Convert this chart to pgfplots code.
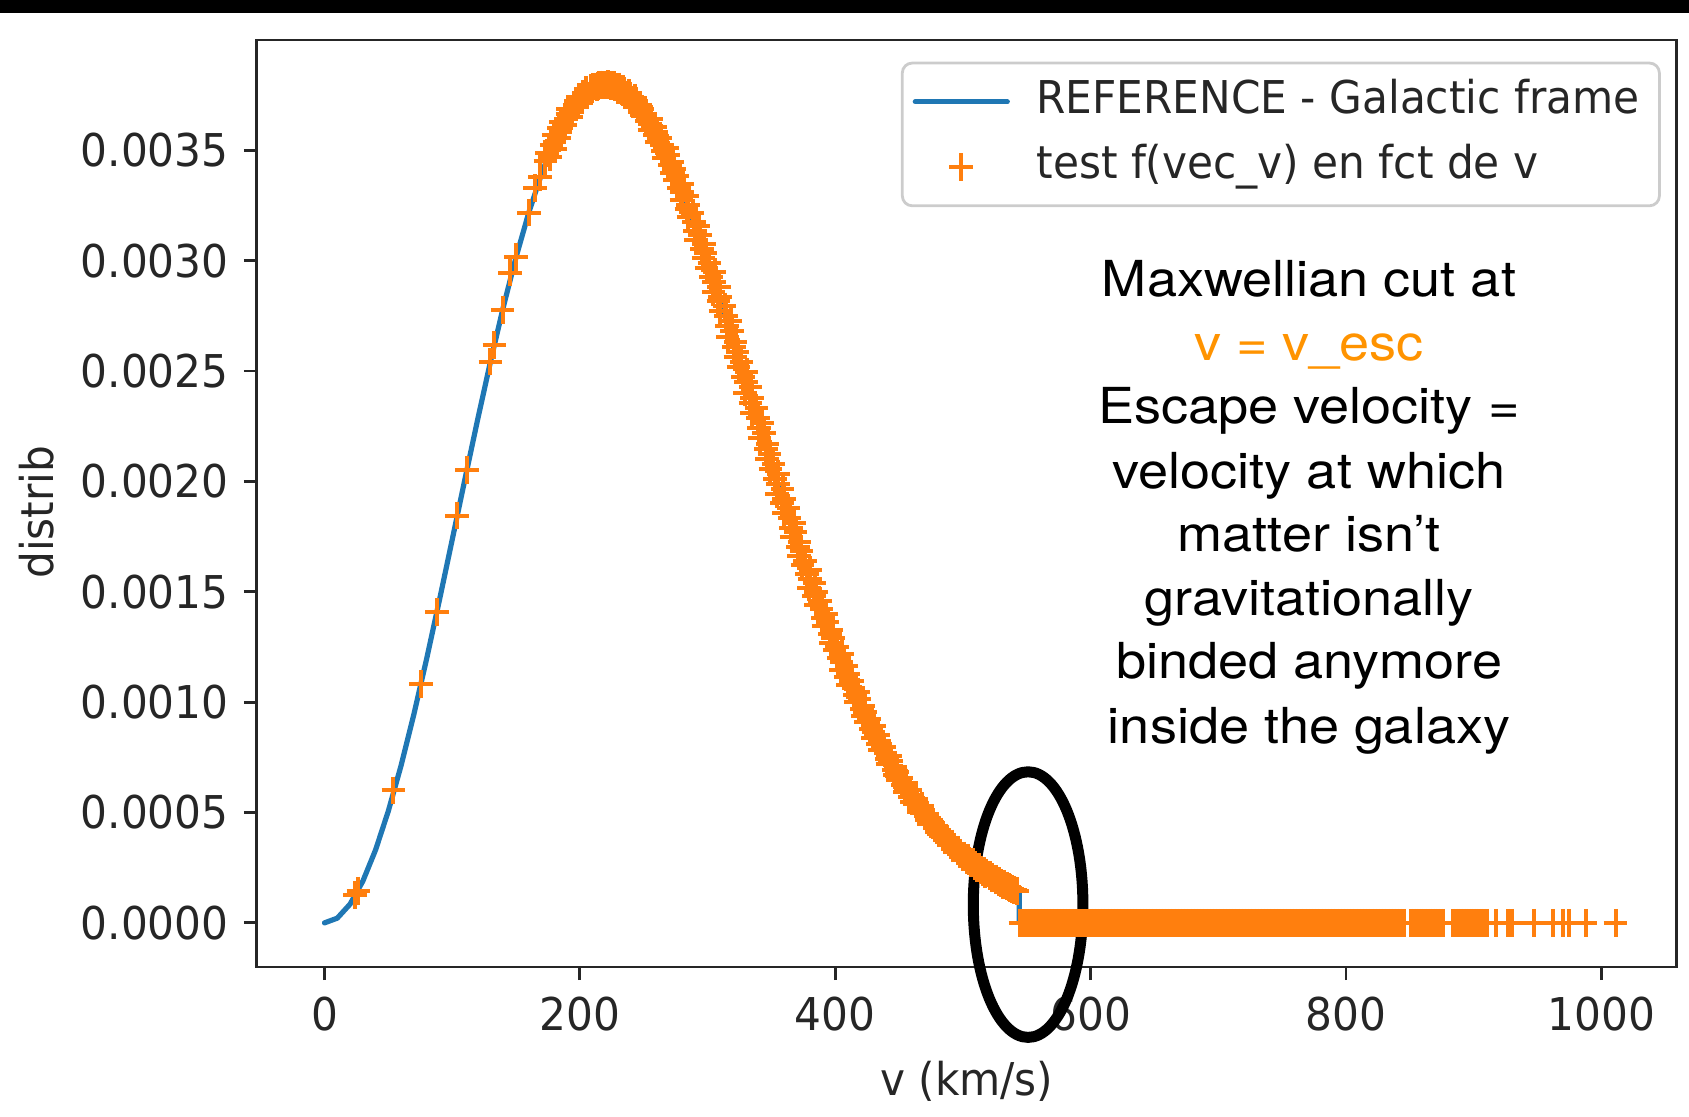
\documentclass[border=0pt]{standalone}
\usepackage{fontspec}
\usepackage{pgfplots}
\pgfplotsset{compat=1.18}
\newfontfamily\mplfont{DejaVu Sans}[FakeStretch=0.935]
\newfontfamily\annfont{TeX Gyre Heros}[FakeStretch=1.09]
\definecolor{mplblue}{HTML}{1F77B4}
\definecolor{mplorange}{HTML}{FF7F0E}
\definecolor{keyorange}{RGB}{255,147,0}
\newcommand{\mplsize}{\mplfont\fontsize{11.3}{13.6}\selectfont}
\newcommand{\annsize}{\annfont\fontsize{12.4}{15}\selectfont}
\pgfplotsset{
  lineleg/.style={legend image code/.code={\draw[##1] (0pt,0pt) -- (23pt,0pt);}},
  markleg/.style={legend image code/.code={\draw[##1, mark repeat=2, mark phase=2] plot coordinates {(0pt,0pt) (11.5pt,0pt) (23pt,0pt)};}},
}
\begin{document}
\begin{tikzpicture}
\useasboundingbox (0,0) rectangle (422.25pt,279pt);
\fill[black] (0,275.75pt) rectangle (422.25pt,279pt);
\begin{axis}[
  at={(64.2pt,37.25pt)}, anchor=south west,
  scale only axis, width=355pt, height=231.75pt,
  xmin=-53, xmax=1059, ymin=-0.0002, ymax=0.0040,
  clip=false,
  axis line style={line width=0.7pt, black!85},
  tick style={line width=0.7pt, black!85},
  tick align=outside, major tick length=3.25pt, tick pos=left,
  xtick={0,200,400,600,800,1000},
  ytick={0,0.0005,0.001,0.0015,0.002,0.0025,0.003,0.0035},
  scaled y ticks=false,
  /pgf/number format/assume math mode=true,
  /pgf/number format/1000 sep={},
  yticklabel style={/pgf/number format/fixed, /pgf/number format/fixed zerofill, /pgf/number format/precision=4, anchor=east, xshift=-3.6pt},
  xticklabel style={anchor=north, yshift=-4pt},
  ticklabel style={font=\mplsize, text=black!85, inner sep=0pt},
  xlabel={v (km/s)}, ylabel={distrib},
  xlabel style={at={(axis description cs:0.5,-0.1389)}, anchor=base, font=\mplsize, text=black!85, inner sep=0pt},
  ylabel style={at={(axis description cs:-0.1431,0.4907)}, anchor=base, font=\mplsize, text=black!85, inner sep=0pt},
  legend cell align=left,
  legend style={at={(rel axis cs:1,1)}, anchor=north east, xshift=-4pt, yshift=-5.4pt,
    draw=black!20, line width=0.7pt, rounded corners=2.5pt, fill=white, fill opacity=0.8, text opacity=1,
    font=\mplsize, text=black!85, inner xsep=2.6pt, inner ysep=4.2pt, row sep=5.3pt,
    nodes={inner xsep=0pt, inner ysep=0pt, text height=8.4pt, text depth=2.6pt},
    /tikz/every odd column/.append style={column sep=6.65pt}},
]
\addplot[color=mplblue, line width=1.3pt, line cap=round, line join=round, no marks, lineleg]
coordinates {
(0,0) (10,0.00002129) (20,0.0000846) (30,0.0001885) (40,0.0003303) (50,0.0005066)
(60,0.0007131) (70,0.0009448) (80,0.0011964) (90,0.0014619) (100,0.0017354)
(110,0.0020106) (120,0.0022818) (130,0.0025431) (140,0.0027893) (150,0.0030158)
(160,0.0032184) (170,0.0033938) (175,0.0034706) (180,0.0035395) (185,0.0036005)
(190,0.0036534) (195,0.0036982) (200,0.0037347) (205,0.0037630) (210,0.0037831)
(215,0.0037950) (220,0.0037990) (225,0.0037951) (230,0.0037836) (235,0.0037646)
(240,0.0037386) (245,0.0037054) (250,0.0036659) (255,0.0036201) (260,0.0035685)
(265,0.0035114) (270,0.0034493) (275,0.0033822) (280,0.0033108) (285,0.0032358)
(290,0.0031571) (295,0.0030751) (300,0.0029908) (305,0.0029039) (310,0.0028154)
(315,0.0027251) (320,0.0026337) (325,0.0025416) (330,0.0024490) (335,0.0023563)
(340,0.0022636) (345,0.0021715) (350,0.0020801) (355,0.0019895) (360,0.0019001)
(365,0.0018126) (370,0.0017261) (375,0.0016417) (380,0.0015593) (385,0.0014792)
(390,0.0014010) (395,0.0013251) (400,0.0012519) (405,0.0011809) (410,0.0011126)
(415,0.0010466) (420,0.0009834) (425,0.0009229) (430,0.0008649) (435,0.0008094)
(440,0.0007566) (445,0.0007062) (450,0.0006585) (455,0.0006130) (460,0.0005701)
(465,0.0005295) (470,0.0004911) (475,0.0004549) (480,0.0004209) (485,0.0003889)
(490,0.0003590) (495,0.0003309) (500,0.0003046) (505,0.0002801) (510,0.0002573)
(515,0.0002360) (520,0.0002162) (525,0.0001978) (530,0.0001808) (535,0.0001650)
(540,0.0001505) (544,0.0001396) (544,0) (840,0)
};
\addlegendentry{REFERENCE - Galactic frame\kern2.4pt}
\addplot[color=mplorange, only marks, mark=+, mark size=2.95pt, mark options={line width=1pt, yscale=1.18}, markleg]
coordinates {
(24,0.000128) (26.5,0.000146) (54,0.000600) (75.5,0.0010811) (88,0.001408) (104,0.0018456)
(111.5,0.0020517) (130,0.0025431) (133,0.0026187) (139.5,0.0027775) (145.5,0.0029466)
(150,0.0030158) (160,0.0032184) (165,0.0033298) (169,0.0033776) (173,0.0034509)
(176.5,0.0034706) (174.25,0.0034879) (180.5,0.0035051) (177.75,0.0035223) (180,0.0035395) (183.75,0.0035548) (179.5,0.0035700) (184.75,0.0035853) (183.5,0.0036005) (188.25,0.0036138) (185,0.0036270) (189.25,0.0036402) (193,0.0036534) (190.25,0.0036646) (194,0.0036758) (190.75,0.0036870) (197,0.0036982) (195.75,0.0037074) (198.5,0.0037165) (196.75,0.0037256)
(201.5,0.0037347) (199.25,0.0037418) (205.5,0.0037489) (202.75,0.0037560) (205,0.0037630) (208.75,0.0037681) (204.5,0.0037731) (209.75,0.0037781) (208.5,0.0037831) (213.25,0.0037861) (210,0.0037891) (214.25,0.0037921) (218,0.0037950) (215.25,0.0037960) (219,0.0037970) (215.75,0.0037980) (222,0.0037990) (220.75,0.0037981) (223.5,0.0037971) (221.75,0.0037961)
(226.5,0.0037951) (224.25,0.0037923) (230.5,0.0037894) (227.75,0.0037865) (230,0.0037836) (233.75,0.0037789) (229.5,0.0037741) (234.75,0.0037694) (233.5,0.0037646) (238.25,0.0037581) (235,0.0037516) (239.25,0.0037451) (243,0.0037386) (240.25,0.0037303) (244,0.0037220) (240.75,0.0037137) (247,0.0037054) (245.75,0.0036956) (248.5,0.0036857) (246.75,0.0036758)
(251.5,0.0036659) (249.25,0.0036545) (255.5,0.0036430) (252.75,0.0036316) (255,0.0036201) (258.75,0.0036072) (254.5,0.0035943) (259.75,0.0035814) (258.5,0.0035685) (263.25,0.0035543) (260,0.0035400) (264.25,0.0035257) (268,0.0035114) (265.25,0.0034959) (269,0.0034804) (265.75,0.0034649) (272,0.0034493) (270.75,0.0034326) (273.5,0.0034158) (271.75,0.0033990)
(276.5,0.0033822) (274.25,0.0033644) (280.5,0.0033465) (277.75,0.0033287) (280,0.0033108) (283.75,0.0032921) (279.5,0.0032733) (284.75,0.0032546) (283.5,0.0032358) (288.25,0.0032162) (285,0.0031965) (289.25,0.0031768) (293,0.0031571) (290.25,0.0031366) (294,0.0031161) (290.75,0.0030956) (297,0.0030751) (295.75,0.0030541) (298.5,0.0030330) (296.75,0.0030119)
(301.5,0.0029908) (299.25,0.0029691) (305.5,0.0029474) (302.75,0.0029257) (305,0.0029039) (308.75,0.0028818) (304.5,0.0028597) (309.75,0.0028376) (308.5,0.0028154) (313.25,0.0027929) (310,0.0027703) (314.25,0.0027477) (318,0.0027251) (315.25,0.0027023) (319,0.0026794) (315.75,0.0026566) (322,0.0026337) (320.75,0.0026107) (323.5,0.0025877) (321.75,0.0025647)
(326.5,0.0025416) (324.25,0.0025185) (330.5,0.0024953) (327.75,0.0024722) (330,0.0024490) (333.75,0.0024259) (329.5,0.0024027) (334.75,0.0023795) (333.5,0.0023563) (338.25,0.0023332) (335,0.0023100) (339.25,0.0022868) (343,0.0022636) (340.25,0.0022406) (344,0.0022176) (340.75,0.0021946) (347,0.0021715) (345.75,0.0021487) (348.5,0.0021258) (346.75,0.0021030)
(351.5,0.0020801) (349.25,0.0020575) (355.5,0.0020348) (352.75,0.0020122) (355,0.0019895) (358.75,0.0019672) (354.5,0.0019448) (359.75,0.0019225) (358.5,0.0019001) (363.25,0.0018783) (360,0.0018564) (364.25,0.0018345) (368,0.0018126) (365.25,0.0017910) (369,0.0017694) (365.75,0.0017478) (372,0.0017261) (370.75,0.0017050) (373.5,0.0016839) (371.75,0.0016628)
(376.5,0.0016417) (374.25,0.0016211) (380.5,0.0016005) (377.75,0.0015799) (380,0.0015593) (383.75,0.0015393) (379.5,0.0015193) (384.75,0.0014993) (383.5,0.0014792) (388.25,0.0014597) (385,0.0014401) (389.25,0.0014206) (393,0.0014010) (390.25,0.0013821) (394,0.0013631) (390.75,0.0013441) (397,0.0013251) (395.75,0.0013068) (398.5,0.0012885) (396.75,0.0012702)
(401.5,0.0012519) (399.25,0.0012342) (405.5,0.0012164) (402.75,0.0011987) (405,0.0011809) (408.75,0.0011639) (404.5,0.0011468) (409.75,0.0011297) (408.5,0.0011126) (413.25,0.0010961) (410,0.0010796) (414.25,0.0010631) (418,0.0010466) (415.25,0.0010308) (419,0.0010150) (415.75,0.0009992) (422,0.0009834) (420.75,0.0009683) (423.5,0.0009532) (421.75,0.0009381)
(426.5,0.0009229) (424.25,0.0009084) (430.5,0.0008939) (427.75,0.0008794) (430,0.0008649) (433.75,0.0008511) (429.5,0.0008372) (434.75,0.0008233) (433.5,0.0008094) (438.25,0.0007962) (435,0.0007830) (439.25,0.0007698) (443,0.0007566) (440.25,0.0007440) (444,0.0007314) (440.75,0.0007188) (447,0.0007062) (445.75,0.0006943) (448.5,0.0006824) (446.75,0.0006705)
(451.5,0.0006585) (449.25,0.0006472) (455.5,0.0006358) (452.75,0.0006244) (455,0.0006130) (458.75,0.0006023) (454.5,0.0005916) (459.75,0.0005809) (458.5,0.0005701) (463.25,0.0005600) (460,0.0005498) (464.25,0.0005397) (468,0.0005295) (465.25,0.0005199) (469,0.0005103) (465.75,0.0005007) (472,0.0004911) (470.75,0.0004821) (473.5,0.0004730) (471.75,0.0004640)
(475.75,0.0004549) (475.25,0.0004464) (479,0.0004379) (478.25,0.0004294) (480,0.0004209) (482.5,0.0004129) (481,0.0004049) (484.25,0.0003969) (484.25,0.0003889) (487.25,0.0003815) (486.25,0.0003740) (489,0.0003665) (491.5,0.0003590) (490.75,0.0003520) (493.25,0.0003450) (492.25,0.0003380) (496,0.0003309) (496,0.0003244) (498,0.0003178) (497.75,0.0003112)
(500.75,0.0003046) (500.25,0.0002985) (504,0.0002924) (503.25,0.0002863) (505,0.0002801) (507.5,0.0002744) (506,0.0002687) (509.25,0.0002630) (509.25,0.0002573) (512.25,0.0002520) (511.25,0.0002467) (514,0.0002414) (516.5,0.0002360) (515.75,0.0002311) (518.25,0.0002261) (517.25,0.0002212) (521,0.0002162) (521,0.0002116) (523,0.0002070) (522.75,0.0002024)
(525.5,0.0001978) (525.75,0.0001936) (528.5,0.0001893) (528.25,0.0001851) (530,0.0001808) (531.75,0.0001769) (531.5,0.0001729) (534.25,0.0001690) (534.5,0.0001650) (536.25,0.0001614) (537,0.0001578) (538.75,0.0001542) (540,0.0001505) (540.75,0.0001468) (542.5,0.0001430)
(545,0) (547.5,0) (550,0) (552.5,0) (555,0) (557.5,0) (560,0) (562.5,0) (565,0) (567.5,0)
(570,0) (572.5,0) (575,0) (577.5,0) (580,0) (582.5,0) (585,0) (587.5,0) (590,0) (592.5,0)
(595,0) (597.5,0) (600,0) (602.5,0) (605,0) (607.5,0) (610,0) (612.5,0) (615,0) (617.5,0)
(620,0) (622.5,0) (625,0) (627.5,0) (630,0) (632.5,0) (635,0) (637.5,0) (640,0) (642.5,0)
(645,0) (647.5,0) (650,0) (652.5,0) (655,0) (657.5,0) (660,0) (662.5,0) (665,0) (667.5,0)
(670,0) (672.5,0) (675,0) (677.5,0) (680,0) (682.5,0) (685,0) (687.5,0) (690,0) (692.5,0)
(695,0) (697.5,0) (700,0) (702.5,0) (705,0) (707.5,0) (710,0) (712.5,0) (715,0) (717.5,0)
(720,0) (722.5,0) (725,0) (727.5,0) (730,0) (732.5,0) (735,0) (737.5,0) (740,0) (742.5,0)
(745,0) (747.5,0) (750,0) (752.5,0) (755,0) (757.5,0) (760,0) (762.5,0) (765,0) (767.5,0)
(770,0) (772.5,0) (775,0) (777.5,0) (780,0) (782.5,0) (785,0) (787.5,0) (790,0) (792.5,0)
(795,0) (797.5,0) (800,0) (802.5,0) (805,0) (807.5,0) (810,0) (812.5,0) (815,0) (817.5,0)
(820,0) (822.5,0) (825,0) (827.5,0) (830,0) (832.5,0) (835,0) (837.5,0) (840,0) (842.5,0)
(845,0)
(851,0) (853,0) (855,0) (857,0) (859,0)
(862,0) (864,0) (866,0) (868,0) (870,0) (872,0) (874,0) (876,0)
(884,0) (886,0) (888,0) (890,0) (892,0) (894,0) (896,0) (898,0) (900,0) (902,0)
(904,0) (906,0) (908,0) (910,0)
(917.5,0) (927,0) (930,0) (947.5,0) (962,0) (970,0) (974.5,0) (987.5,0) (1011,0)
};
\addlegendentry{test f(vec\_v) en fct de v}
\draw[line width=2.75pt, black] (axis cs:551,0.0000828) ellipse [x radius=13.7pt, y radius=33.2pt];
\end{axis}
\node[anchor=base, font=\annsize, text=black] at (327.25pt,204.8pt) {Maxwellian cut at};
\node[anchor=base, font=\annsize, text=keyorange] at (327.25pt,189pt) {v = v\_esc};
\node[anchor=base, font=\annsize, text=black] at (327.25pt,173.2pt) {Escape velocity =};
\node[anchor=base, font=\annsize, text=black] at (327.25pt,156.9pt) {velocity at which};
\node[anchor=base, font=\annsize, text=black] at (327.25pt,141.1pt) {matter isn’t};
\node[anchor=base, font=\annsize, text=black] at (327.25pt,125.25pt) {gravitationally};
\node[anchor=base, font=\annsize, text=black] at (327.25pt,109.4pt) {binded anymore};
\node[anchor=base, font=\annsize, text=black] at (327.25pt,93.2pt) {inside the galaxy};
\end{tikzpicture}
\end{document}
